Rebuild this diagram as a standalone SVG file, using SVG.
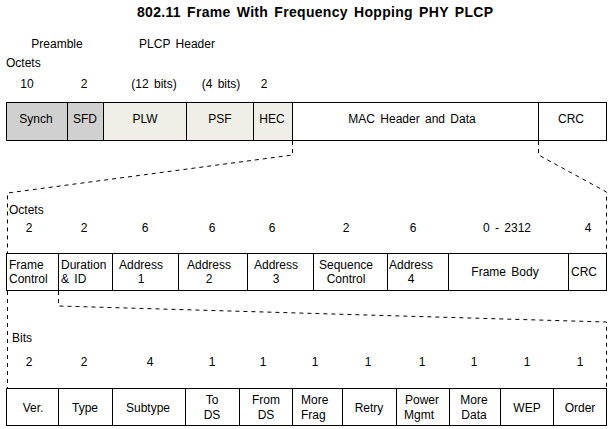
<svg xmlns="http://www.w3.org/2000/svg" width="613" height="429" viewBox="0 0 613 429">
<style>
text{font-family:"Liberation Sans",Arial,sans-serif;font-size:12px;fill:#000;word-spacing:2px}
.c{text-anchor:middle}
.t{font-weight:bold;font-size:14px}
.box{stroke:#000;stroke-width:1;fill:#fff}
.pre{fill:#d0d0d0}
.plcp{fill:#efefe8}
.dash{fill:none;stroke:#000;stroke-width:1;stroke-dasharray:4 4}
</style>
<rect width="613" height="429" fill="#fff"/>
<text class="t c" x="315" y="17" textLength="356" lengthAdjust="spacing">802.11 Frame With Frequency Hopping PHY PLCP</text>
<text class="c" x="57" y="48">Preamble</text>
<text class="c" x="177" y="48">PLCP Header</text>
<text x="6" y="67">Octets</text>
<text class="c" x="27" y="88">10</text>
<text class="c" x="84" y="88">2</text>
<text class="c" x="154" y="88">(12 bits)</text>
<text class="c" x="221" y="88">(4 bits)</text>
<text class="c" x="264" y="88">2</text>
<g id="phy-frame">
<g id="synch"><rect class="box pre" x="6.5" y="102.5" width="61" height="38"/><text class="c" x="36" y="123">Synch</text></g>
<g id="sfd"><rect class="box pre" x="67.5" y="102.5" width="36" height="38"/><text class="c" x="85" y="123">SFD</text></g>
<g id="plw"><rect class="box plcp" x="103.5" y="102.5" width="83" height="38"/><text class="c" x="145" y="123">PLW</text></g>
<g id="psf"><rect class="box plcp" x="186.5" y="102.5" width="67" height="38"/><text class="c" x="220" y="123">PSF</text></g>
<g id="hec"><rect class="box plcp" x="253.5" y="102.5" width="39" height="38"/><text class="c" x="272" y="123">HEC</text></g>
<g id="mac"><rect class="box" x="292.5" y="102.5" width="246" height="38"/><text class="c" x="412" y="123">MAC Header and Data</text></g>
<g id="crc1"><rect class="box" x="538.5" y="102.5" width="68" height="38"/><text class="c" x="571" y="123">CRC</text></g>
</g>
<g id="connectors">
<polyline class="dash" points="292.5,141 292.5,155 7.5,193 7.5,253"/>
<polyline class="dash" points="538.5,141 538.5,155 606.5,192 606.5,253"/>
<polyline class="dash" points="58.5,291 58.5,306 606.5,322 606.5,388"/>
<polyline class="dash" points="7.5,291 7.5,388"/>
</g>
<text x="9" y="214">Octets</text>
<text class="c" x="29" y="232">2</text>
<text class="c" x="84" y="232">2</text>
<text class="c" x="145" y="232">6</text>
<text class="c" x="212" y="232">6</text>
<text class="c" x="272" y="232">6</text>
<text class="c" x="346" y="232">2</text>
<text class="c" x="413" y="232">6</text>
<text class="c" x="507" y="232">0 - 2312</text>
<text class="c" x="588" y="232">4</text>
<g id="mac-frame">
<g id="frame-control"><rect class="box" x="6.5" y="253.5" width="52" height="37"/><text x="9" y="269">Frame</text><text x="9" y="283">Control</text></g>
<g id="duration"><rect class="box" x="58.5" y="253.5" width="54" height="37"/><text x="61" y="269">Duration</text><text x="61" y="283">&amp; ID</text></g>
<g id="addr1"><rect class="box" x="112.5" y="253.5" width="66" height="37"/><text class="c" x="141" y="269">Address</text><text class="c" x="141" y="283">1</text></g>
<g id="addr2"><rect class="box" x="178.5" y="253.5" width="69" height="37"/><text class="c" x="209" y="269">Address</text><text class="c" x="209" y="283">2</text></g>
<g id="addr3"><rect class="box" x="247.5" y="253.5" width="66" height="37"/><text class="c" x="276" y="269">Address</text><text class="c" x="276" y="283">3</text></g>
<g id="seq"><rect class="box" x="313.5" y="253.5" width="74" height="37"/><text class="c" x="346" y="269">Sequence</text><text class="c" x="346" y="283">Control</text></g>
<g id="addr4"><rect class="box" x="387.5" y="253.5" width="61" height="37"/><text class="c" x="411" y="269">Address</text><text class="c" x="411" y="283">4</text></g>
<g id="body"><rect class="box" x="448.5" y="253.5" width="120" height="37"/><text class="c" x="505" y="276">Frame Body</text></g>
<g id="crc2"><rect class="box" x="568.5" y="253.5" width="38" height="37"/><text x="571" y="276">CRC</text></g>
</g>
<text x="12" y="342">Bits</text>
<text class="c" x="29" y="366">2</text>
<text class="c" x="84" y="366">2</text>
<text class="c" x="150" y="366">4</text>
<text class="c" x="212" y="366">1</text>
<text class="c" x="263" y="366">1</text>
<text class="c" x="315" y="366">1</text>
<text class="c" x="368" y="366">1</text>
<text class="c" x="422" y="366">1</text>
<text class="c" x="474" y="366">1</text>
<text class="c" x="527" y="366">1</text>
<text class="c" x="580" y="366">1</text>
<g id="fc-bits">
<g id="ver"><rect class="box" x="6.5" y="388.5" width="52" height="37"/><text class="c" x="33" y="412">Ver.</text></g>
<g id="type"><rect class="box" x="58.5" y="388.5" width="54" height="37"/><text class="c" x="85" y="412">Type</text></g>
<g id="subtype"><rect class="box" x="112.5" y="388.5" width="73" height="37"/><text class="c" x="148" y="412">Subtype</text></g>
<g id="tods"><rect class="box" x="185.5" y="388.5" width="54" height="37"/><text class="c" x="212" y="404">To</text><text class="c" x="212" y="419">DS</text></g>
<g id="fromds"><rect class="box" x="239.5" y="388.5" width="53" height="37"/><text class="c" x="266" y="404">From</text><text class="c" x="266" y="419">DS</text></g>
<g id="morefrag"><rect class="box" x="292.5" y="388.5" width="50" height="37"/><text x="301" y="404">More</text><text x="301" y="419">Frag</text></g>
<g id="retry"><rect class="box" x="342.5" y="388.5" width="54" height="37"/><text class="c" x="369" y="412">Retry</text></g>
<g id="power"><rect class="box" x="396.5" y="388.5" width="53" height="37"/><text class="c" x="422" y="404">Power</text><text class="c" x="419" y="419">Mgmt</text></g>
<g id="moredata"><rect class="box" x="449.5" y="388.5" width="51" height="37"/><text class="c" x="474" y="404">More</text><text class="c" x="474" y="419">Data</text></g>
<g id="wep"><rect class="box" x="500.5" y="388.5" width="53" height="37"/><text class="c" x="527" y="412">WEP</text></g>
<g id="order"><rect class="box" x="553.5" y="388.5" width="53" height="37"/><text class="c" x="580" y="412">Order</text></g>
</g>
</svg>
